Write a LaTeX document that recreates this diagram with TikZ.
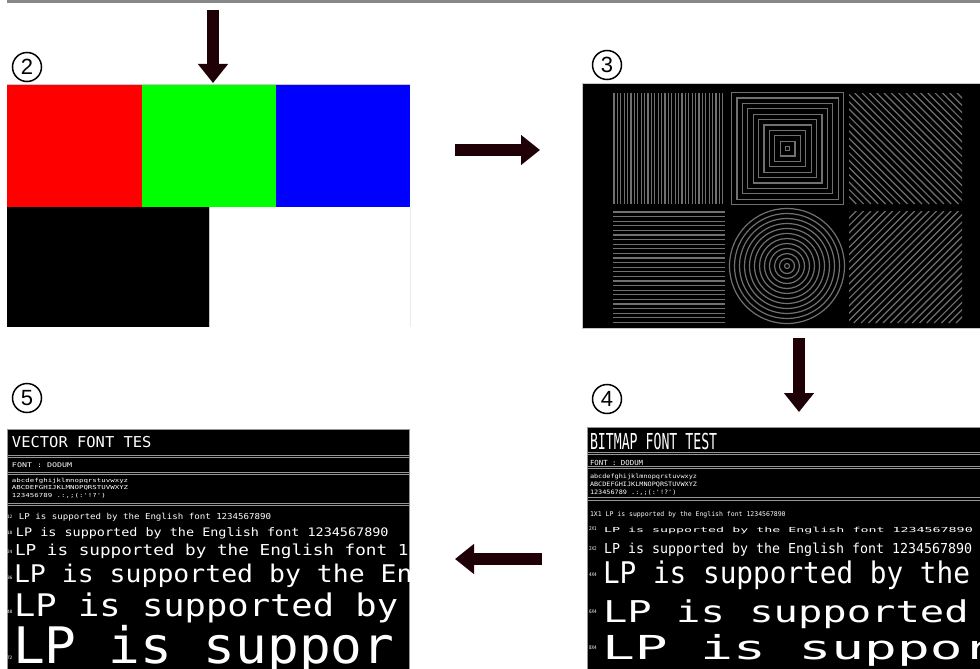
\documentclass[tikz,border=0pt]{standalone}
\usepackage{fontspec}
\usepackage{graphicx}
\setmainfont{Liberation Sans}
\newfontfamily\monof{DejaVu Sans Mono}
\usetikzlibrary{arrows.meta}
\definecolor{arrowcol}{RGB}{30,0,6}
\definecolor{barcol}{RGB}{136,136,136}
\definecolor{patcol}{RGB}{112,112,112}
\definecolor{seccol}{RGB}{150,150,150}
\definecolor{edgecol}{RGB}{200,200,200}
\newcommand\tline[5]{\node[txt] (#1) at (#2) {\fontsize{#3}{#3}\selectfont\scalebox{#4}[1]{#5}};}
\begin{document}
\begin{tikzpicture}[x=1pt,y=-1pt,
  txt/.style={anchor=base west,inner sep=0pt,outer sep=0pt,text=white,font=\monof},
  circnum/.style={circle,draw=black,line width=1.5pt,minimum size=29pt,inner sep=0pt,font=\fontsize{22}{22}\selectfont},
  bigarrow/.style={draw=arrowcol,line width=12.5pt,-{Triangle[width=29pt,length=19pt]}},
  pat/.style={draw=patcol,line width=1.2pt},
  secline/.style={draw=seccol,line width=0.8pt},
  panel/.style={anchor=north west,inner sep=0pt,outer sep=0pt}]
\useasboundingbox (0,0) rectangle (980,669);
\fill[white] (0,0) rectangle (980,669);
% top bar
\fill[barcol] (7,0) rectangle (980,3);
% circled numbers
\node[circnum] (c2) at (27,67) {2};
\node[circnum] (c3) at (607,65) {3};
\node[circnum] (c5) at (27,398) {5};
\node[circnum] (c4) at (607,399) {4};
% ---------- panel 2 ----------
\node[panel,minimum width=403pt,minimum height=243pt] (p2) at (7,84) {};
\fill[red] (7,84) rectangle (142,207);
\fill[green] (142,84) rectangle (276,207);
\fill[blue] (276,84) rectangle (410,207);
\fill[black] (7,207) rectangle (209,327);
\draw[edgecol,line width=0.8pt] (7,84) -- (410,84);
\draw[edgecol,line width=1pt] (209,207) -- (209,327);
\draw[white!92!black,line width=0.8pt] (410,207) -- (410,327);
% ---------- panel 3 ----------
\node[panel,fill=black,draw=edgecol,line width=0.6pt,minimum width=398pt,minimum height=245pt] (p3) at (582,83) {};
\begin{scope}
\clip (613,93) rectangle (725,204);
\foreach \i in {0,...,32} \draw[pat] ({614+\i*3.4},93) -- ++(0,111);
\end{scope}
\begin{scope}
\clip (613,211) rectangle (725,324);
\foreach \i in {0,...,24} \draw[pat] (613,{212+\i*4.6}) -- ++(112,0);
\end{scope}
\foreach \k in {0,...,10} {
  \pgfmathsetmacro\h{2+\k*5.4}
  \draw[pat] ({787.5-\h},{148.5-\h}) rectangle ({787.5+\h},{148.5+\h});
}
\foreach \k in {0,...,11} {
  \pgfmathsetmacro\r{2.5+\k*5}
  \draw[pat] (787,266) circle[radius=\r pt];
}
\begin{scope}
\clip (849,93) rectangle (962,204);
\foreach \i in {0,...,31} \draw[pat] ({849-111+\i*7.3},93) -- ++(111,111);
\end{scope}
\begin{scope}
\clip (849,211) rectangle (962,323);
\foreach \i in {0,...,31} \draw[pat] ({849-112+\i*7.3},323) -- ++(112,-112);
\end{scope}
% ---------- panel 5 (vector font) ----------
\node[panel,fill=black,draw=seccol,line width=0.6pt,minimum width=402pt,minimum height=241pt] (p5) at (7,429) {};
\foreach \yy in {455,457.5,472,474.5,503,505.5} \draw[secline] (7,\yy) -- (409,\yy);
\begin{scope}
\clip (7,429) rectangle (409,669);
\tline{v1}{12,447}{15}{1.03}{VECTOR FONT TES}
\tline{v2}{12,467}{6.5}{1.28}{FONT : DODUM}
\tline{v3}{12,482}{5.5}{1.35}{abcdefghijklmnopqrstuvwxyz}
\tline{v4}{12,489.5}{5.5}{1.35}{ABCDEFGHIJKLMNOPQRSTUVWXYZ}
\tline{v5}{12,497}{5.5}{1.35}{123456789 .:,;(:'!?')}
\tline{n12}{7,518}{4.5}{1}{12}
\tline{n18}{7,534}{4.5}{1}{18}
\tline{n24}{7,553}{4.5}{1}{24}
\tline{n36}{7,579}{4.5}{1}{36}
\tline{n48}{7,613}{4.5}{1}{48}
\tline{n72}{7,659}{4.5}{1}{72}
\tline{vl1}{19,519}{8.2}{1.11}{LP is supported by the English font 1234567890}
\tline{vl2}{16,536}{11.7}{1.15}{LP is supported by the English font 1234567890}
\tline{vl3}{15,555}{15.1}{1.17}{LP is supported by the English font 1}
\tline{vl4}{14,582}{24.3}{1.09}{LP is supported by the En}
\tline{vl5}{14,616}{31.1}{1.14}{LP is supported by}
\tline{vl6}{13,663}{50.3}{1.05}{LP is suppor}
\end{scope}
% ---------- panel 4 (bitmap font) ----------
\node[panel,fill=black,draw=seccol,line width=0.6pt,minimum width=394pt,minimum height=243pt] (p4) at (587,427) {};
\foreach \yy in {452,454,466,468,497,500} \draw[secline] (587,\yy) -- (980,\yy);
\begin{scope}
\clip (587,427) rectangle (980,669);
\tline{b1}{590,449}{22}{0.6}{BITMAP FONT TEST}
\tline{b2}{590,465}{7}{1.05}{FONT : DODUM}
\tline{b3}{590,478}{6}{1.14}{abcdefghijklmnopqrstuvwxyz}
\tline{b4}{590,486}{6}{1.14}{ABCDEFGHIJKLMNOPQRSTUVWXYZ}
\tline{b5}{590,494}{6}{1.14}{123456789 .:,;(:'!?')}
\tline{bl1}{590,516}{6.5}{1.0}{1X1 LP is supported by the English font 1234567890}
\tline{m21}{589,530}{5}{0.85}{2X1}
\tline{m22}{589,550}{5}{0.85}{2X2}
\tline{m44}{589,576}{5}{0.85}{4X4}
\tline{m64}{589,613}{5}{0.85}{6X4}
\tline{m84}{589,649}{5}{0.85}{8X4}
\tline{bl2}{604,532}{6.9}{1.93}{LP is supported by the English font 1234567890}
\tline{bl3}{604,553}{13.7}{0.97}{LP is supported by the English font 1234567890}
\tline{bl4}{603,583}{29.8}{0.93}{LP is supported by the}
\tline{bl5}{603,622}{30}{1.35}{LP is supported}
\tline{bl6}{602,659}{33}{1.65}{LP is suppor}
\end{scope}
% ---------- arrows ----------
\coordinate (a1s) at (213,10);
\coordinate (a1e) at (213,83);
\coordinate (a2s) at (455,150);
\coordinate (a2e) at (540,150);
\coordinate (a3s) at (799,338);
\coordinate (a3e) at (799,412);
\coordinate (a4s) at (542,559);
\coordinate (a4e) at (455,559);
\draw[bigarrow] (a1s) -- (a1e);
\draw[bigarrow] (a2s) -- (a2e);
\draw[bigarrow] (a3s) -- (a3e);
\draw[bigarrow] (a4s) -- (a4e);
\end{tikzpicture}
\end{document}
